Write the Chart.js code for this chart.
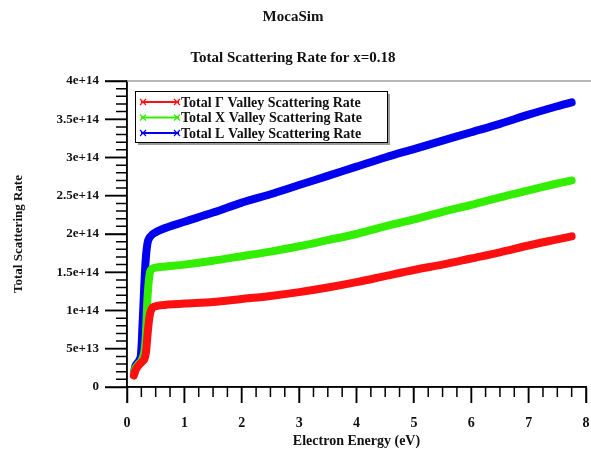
<!DOCTYPE html>
<html>
<head>
<meta charset="utf-8">
<script src="https://cdn.jsdelivr.net/npm/chart.js@4.4.1/dist/chart.umd.min.js"></script>
<style>
  html, body { margin: 0; padding: 0; background: #ffffff; }
  #wrap { width: 591px; height: 455px; }
</style>
</head>
<body>
<div id="wrap"><canvas id="c" width="591" height="455"></canvas></div>
<script>
// ---- Data ----
const chartTitle = "MocaSim";
const chartSubtitle = "Total Scattering Rate for x=0.18";
const xAxisTitle = "Electron Energy (eV)";
const yAxisTitle = "Total Scattering Rate";
const seriesNames = ["Total \u0393 Valley Scattering Rate", "Total X Valley Scattering Rate", "Total L Valley Scattering Rate"];

const gammaEnergy = [0.12, 0.15, 0.2, 0.25, 0.3, 0.33, 0.36, 0.4, 0.45, 0.6, 1, 1.5, 2, 2.5, 3, 3.5, 4, 4.5, 5, 5.5, 6, 6.5, 7, 7.5, 7.75];
const gammaRate   = [1.5e13, 2.2e13, 2.8e13, 3.2e13, 3.6e13, 4.5e13, 7e13, 9.5e13, 1.04e14, 1.07e14, 1.09e14, 1.11e14, 1.15e14, 1.19e14, 1.24e14, 1.3e14, 1.37e14, 1.45e14, 1.53e14, 1.6e14, 1.68e14, 1.76e14, 1.85e14, 1.93e14, 1.97e14];

const xEnergy = [0.12, 0.15, 0.2, 0.25, 0.3, 0.33, 0.36, 0.4, 0.45, 0.6, 1, 1.5, 2, 2.5, 3, 3.5, 4, 4.5, 5, 5.5, 6, 6.5, 7, 7.5, 7.75];
const xRate   = [1.8e13, 2.5e13, 3e13, 3.4e13, 4.5e13, 7e13, 1.2e14, 1.5e14, 1.55e14, 1.57e14, 1.6e14, 1.65e14, 1.71e14, 1.77e14, 1.84e14, 1.92e14, 2.0e14, 2.1e14, 2.19e14, 2.29e14, 2.38e14, 2.48e14, 2.57e14, 2.66e14, 2.7e14];

const lEnergy = [0.12, 0.15, 0.2, 0.24, 0.27, 0.3, 0.33, 0.37, 0.45, 0.6, 1, 1.5, 2, 2.5, 3, 3.5, 4, 4.5, 5, 5.5, 6, 6.5, 7, 7.5, 7.75];
const lRate   = [1.8e13, 2.8e13, 3.3e13, 4e13, 8e13, 1.3e14, 1.7e14, 1.92e14, 2.0e14, 2.06e14, 2.16e14, 2.28e14, 2.41e14, 2.52e14, 2.64e14, 2.76e14, 2.88e14, 3.0e14, 3.11e14, 3.22e14, 3.33e14, 3.44e14, 3.56e14, 3.67e14, 3.72e14];

const xTickValues = [0, 1, 2, 3, 4, 5, 6, 7, 8];
const yTickValues = [0, 5e13, 1e14, 1.5e14, 2e14, 2.5e14, 3e14, 3.5e14, 4e14];

// ---- Styles ----
const colors = ["#ff1010", "#33ee00", "#0000ee"];
const serif = "'Liberation Serif', 'Times New Roman', serif";

function toPoints(xs, ys) { return xs.map((x, i) => ({ x: x, y: ys[i] })); }

const axisTicks = {
  id: 'axisTicks',
  afterDraw(chart) {
    const ctx = chart.ctx;
    const xs = chart.scales.x, ys = chart.scales.y;
    const ca = chart.chartArea;
    ctx.save();
    ctx.strokeStyle = '#000';
    ctx.lineWidth = 1.5;
    ctx.beginPath();
    for (let i = 0; i <= 32; i++) {
      const px = xs.getPixelForValue(i * 0.25);
      const len = (i % 4 === 0) ? 16 : 10;
      ctx.moveTo(px, ca.bottom);
      ctx.lineTo(px, ca.bottom + len);
    }
    for (let i = 0; i <= 40; i++) {
      const py = ys.getPixelForValue(i * 1e13);
      const len = (i % 5 === 0) ? 22 : 11;
      ctx.moveTo(ca.left, py);
      ctx.lineTo(ca.left - len, py);
    }
    ctx.stroke();
    ctx.beginPath();
    ctx.moveTo(ca.left, ca.top);
    ctx.lineTo(ca.left, ca.bottom);
    ctx.lineTo(ca.right, ca.bottom);
    ctx.stroke();
    // top frame line
    ctx.strokeStyle = '#a0a0a0';
    ctx.beginPath();
    ctx.moveTo(ca.left, ca.top);
    ctx.lineTo(chart.width, ca.top);
    ctx.stroke();
    ctx.restore();
  }
};

function drawMarker(ctx, x, y, color) {
  ctx.strokeStyle = color;
  ctx.lineWidth = 1.2;
  ctx.beginPath();
  ctx.moveTo(x - 3, y - 3); ctx.lineTo(x + 3, y + 3);
  ctx.moveTo(x - 3, y + 3); ctx.lineTo(x + 3, y - 3);
  ctx.stroke();
}

const boxLegend = {
  id: 'boxLegend',
  afterDraw(chart) {
    const ctx = chart.ctx;
    const ca = chart.chartArea;
    const bx = ca.left + 8, by = ca.top + 10, bw = 252, bh = 51;
    ctx.save();
    ctx.fillStyle = '#9a9a9a';
    ctx.fillRect(bx + 3, by + 3, bw, bh);
    ctx.fillStyle = '#fff';
    ctx.fillRect(bx, by, bw, bh);
    ctx.strokeStyle = '#000';
    ctx.lineWidth = 1;
    ctx.strokeRect(bx + 0.5, by + 0.5, bw, bh);
    ctx.font = "bold 14px " + serif;
    ctx.textBaseline = 'middle';
    ctx.textAlign = 'left';
    chart.data.datasets.forEach((ds, i) => {
      const y = by + 11 + i * 15.5;
      const x0 = bx + 6, x1 = bx + 44;
      ctx.strokeStyle = ds.borderColor;
      ctx.lineWidth = 2;
      ctx.beginPath();
      ctx.moveTo(x0, y); ctx.lineTo(x1, y);
      ctx.stroke();
      drawMarker(ctx, x0 + 2, y, ds.borderColor);
      drawMarker(ctx, x1 - 2, y, ds.borderColor);
      ctx.fillStyle = '#111';
      ctx.fillText(ds.label, x1 + 2, y + 1);
    });
    ctx.restore();
  }
};

const chart = new Chart(document.getElementById('c'), {
  type: 'line',
  data: {
    datasets: [
      { label: seriesNames[0], data: toPoints(gammaEnergy, gammaRate), borderColor: colors[0], backgroundColor: colors[0] },
      { label: seriesNames[1], data: toPoints(xEnergy, xRate), borderColor: colors[1], backgroundColor: colors[1] },
      { label: seriesNames[2], data: toPoints(lEnergy, lRate), borderColor: colors[2], backgroundColor: colors[2] }
    ]
  },
  options: {
    responsive: false,
    animation: false,
    devicePixelRatio: 1,
    layout: { padding: { top: 0, left: 0, right: 5, bottom: 0 } },
    elements: {
      line: { borderWidth: 8, tension: 0.3, borderCapStyle: 'round', borderJoinStyle: 'round' },
      point: { radius: 0 }
    },
    plugins: {
      legend: { display: false },
      tooltip: { enabled: false },
      title: {
        display: true, text: chartTitle, color: '#111',
        font: { family: serif, size: 15, weight: 'bold' },
        padding: { top: 8, bottom: 0 }
      },
      subtitle: {
        display: true, text: chartSubtitle, color: '#111',
        font: { family: serif, size: 15, weight: 'bold' },
        padding: { top: 23, bottom: 14 }
      }
    },
    scales: {
      x: {
        type: 'linear', position: 'bottom', min: 0, max: 8,
        afterFit(scale) { scale.height = 68; scale.paddingLeft = 0; scale.paddingRight = 0; },
        afterBuildTicks(scale) { scale.ticks = xTickValues.map(v => ({ value: v })); },
        ticks: { color: '#111', font: { family: serif, size: 14, weight: 'bold' }, padding: 12, maxRotation: 0 },
        grid: { display: true, drawOnChartArea: false, drawTicks: true, tickLength: 16, color: '#000', tickColor: '#000', tickWidth: 1.5 },
        border: { display: true, color: '#000', width: 1.5 },
        title: {
          display: true, text: xAxisTitle, color: '#111',
          font: { family: serif, size: 14, weight: 'bold' },
          padding: { top: 0, bottom: 5 }
        }
      },
      y: {
        type: 'linear', position: 'left', min: 0, max: 4e14,
        afterFit(scale) { scale.width = 127; scale.paddingTop = 0; scale.paddingBottom = 0; },
        afterBuildTicks(scale) { scale.ticks = yTickValues.map(v => ({ value: v })); },
        ticks: {
          color: '#111', font: { family: serif, size: 13, weight: 'bold' }, padding: 6,
          callback: v => v === 0 ? '0' : Number(v).toExponential()
        },
        grid: { display: true, drawOnChartArea: false, drawTicks: true, tickLength: 22, color: '#000', tickColor: '#000', tickWidth: 1.5 },
        border: { display: true, color: '#000', width: 1.5 },
        title: {
          display: true, text: yAxisTitle, color: '#111',
          font: { family: serif, size: 13, weight: 'bold' },
          padding: { top: 11, bottom: 0 }
        }
      }
    }
  },
  plugins: [axisTicks, boxLegend]
});
</script>
</body>
</html>
